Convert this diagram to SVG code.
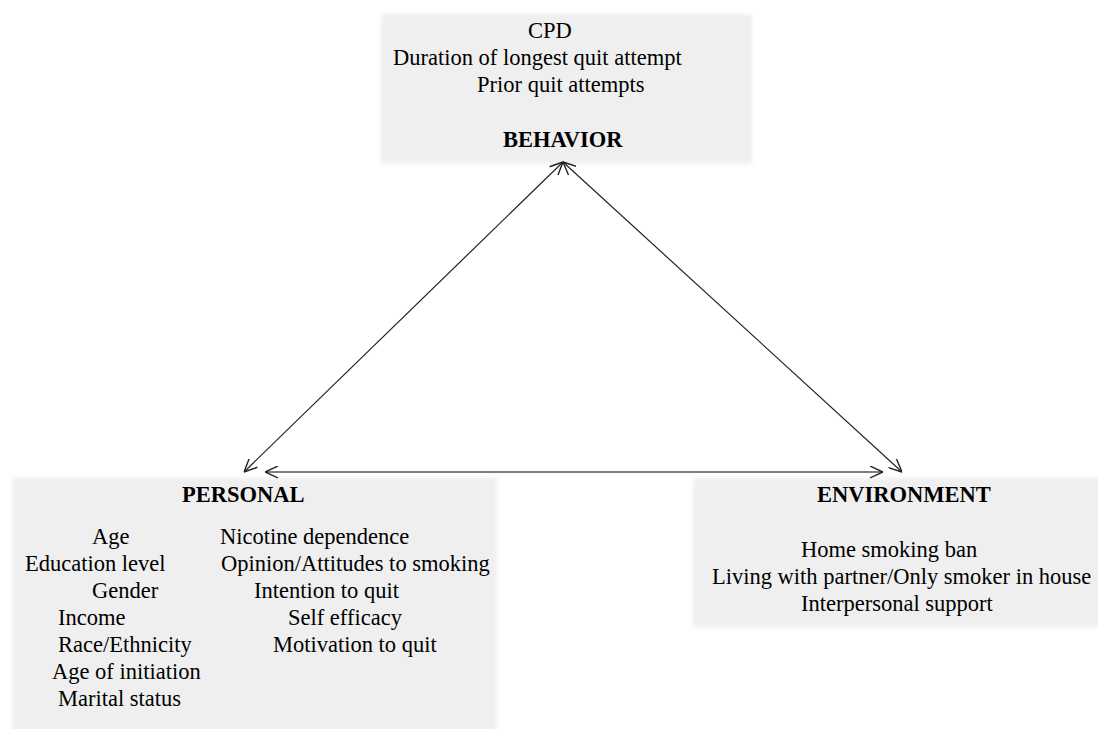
<svg xmlns="http://www.w3.org/2000/svg" width="1098" height="729" viewBox="0 0 1098 729">
<style>
.box{fill:#efefef;filter:url(#soft);}
.t{font-family:"Liberation Serif","Times New Roman",serif;font-size:22.5px;fill:#000;}
.b{font-weight:bold;}
.ln{fill:none;stroke:#222;stroke-width:1.2;}
.hl{fill:none;stroke:#555;stroke-width:1.6;}
</style>
<defs>
<filter id="soft" x="-5%" y="-5%" width="110%" height="110%">
<feGaussianBlur stdDeviation="2"/>
</filter>
<marker id="ah" viewBox="0 0 12 12" refX="12" refY="6" markerWidth="13" markerHeight="13" markerUnits="userSpaceOnUse" orient="auto-start-reverse">
<path d="M0,0.5 L12,6 L0,11.5" fill="none" stroke="#222" stroke-width="1.3"/>
</marker>
</defs>
<rect width="1098" height="729" fill="#fff"/>
<g id="behavior">
<rect class="box" x="381" y="14" width="371" height="150"/>
<text class="t" x="528" y="38">CPD</text>
<text class="t" x="393" y="65">Duration of longest quit attempt</text>
<text class="t" x="477" y="92">Prior quit attempts</text>
<text class="t b" x="503" y="147">BEHAVIOR</text>
</g>
<g id="personal">
<rect class="box" x="12" y="478" width="485" height="255"/>
<text class="t b" x="182" y="502">PERSONAL</text>
<text class="t" x="92" y="544">Age</text>
<text class="t" x="25" y="571">Education level</text>
<text class="t" x="92" y="598">Gender</text>
<text class="t" x="58" y="625">Income</text>
<text class="t" x="58" y="652">Race/Ethnicity</text>
<text class="t" x="52" y="679">Age of initiation</text>
<text class="t" x="58" y="706">Marital status</text>
<text class="t" x="220" y="544">Nicotine dependence</text>
<text class="t" x="221" y="571">Opinion/Attitudes to smoking</text>
<text class="t" x="254" y="598">Intention to quit</text>
<text class="t" x="288" y="625">Self efficacy</text>
<text class="t" x="273" y="652">Motivation to quit</text>
</g>
<g id="environment">
<rect class="box" x="693" y="478" width="410" height="149"/>
<text class="t b" x="817" y="502">ENVIRONMENT</text>
<text class="t" x="801" y="557">Home smoking ban</text>
<text class="t" x="712" y="584">Living with partner/Only smoker in house</text>
<text class="t" x="801" y="611">Interpersonal support</text>
</g>
<g id="connectors">
<line class="ln" x1="563" y1="162" x2="244" y2="472" marker-start="url(#ah)" marker-end="url(#ah)"/>
<line class="ln" x1="563" y1="162" x2="902" y2="472" marker-start="url(#ah)" marker-end="url(#ah)"/>
<line class="hl" x1="265" y1="472" x2="883" y2="472" marker-start="url(#ah)" marker-end="url(#ah)"/>
</g>
</svg>
